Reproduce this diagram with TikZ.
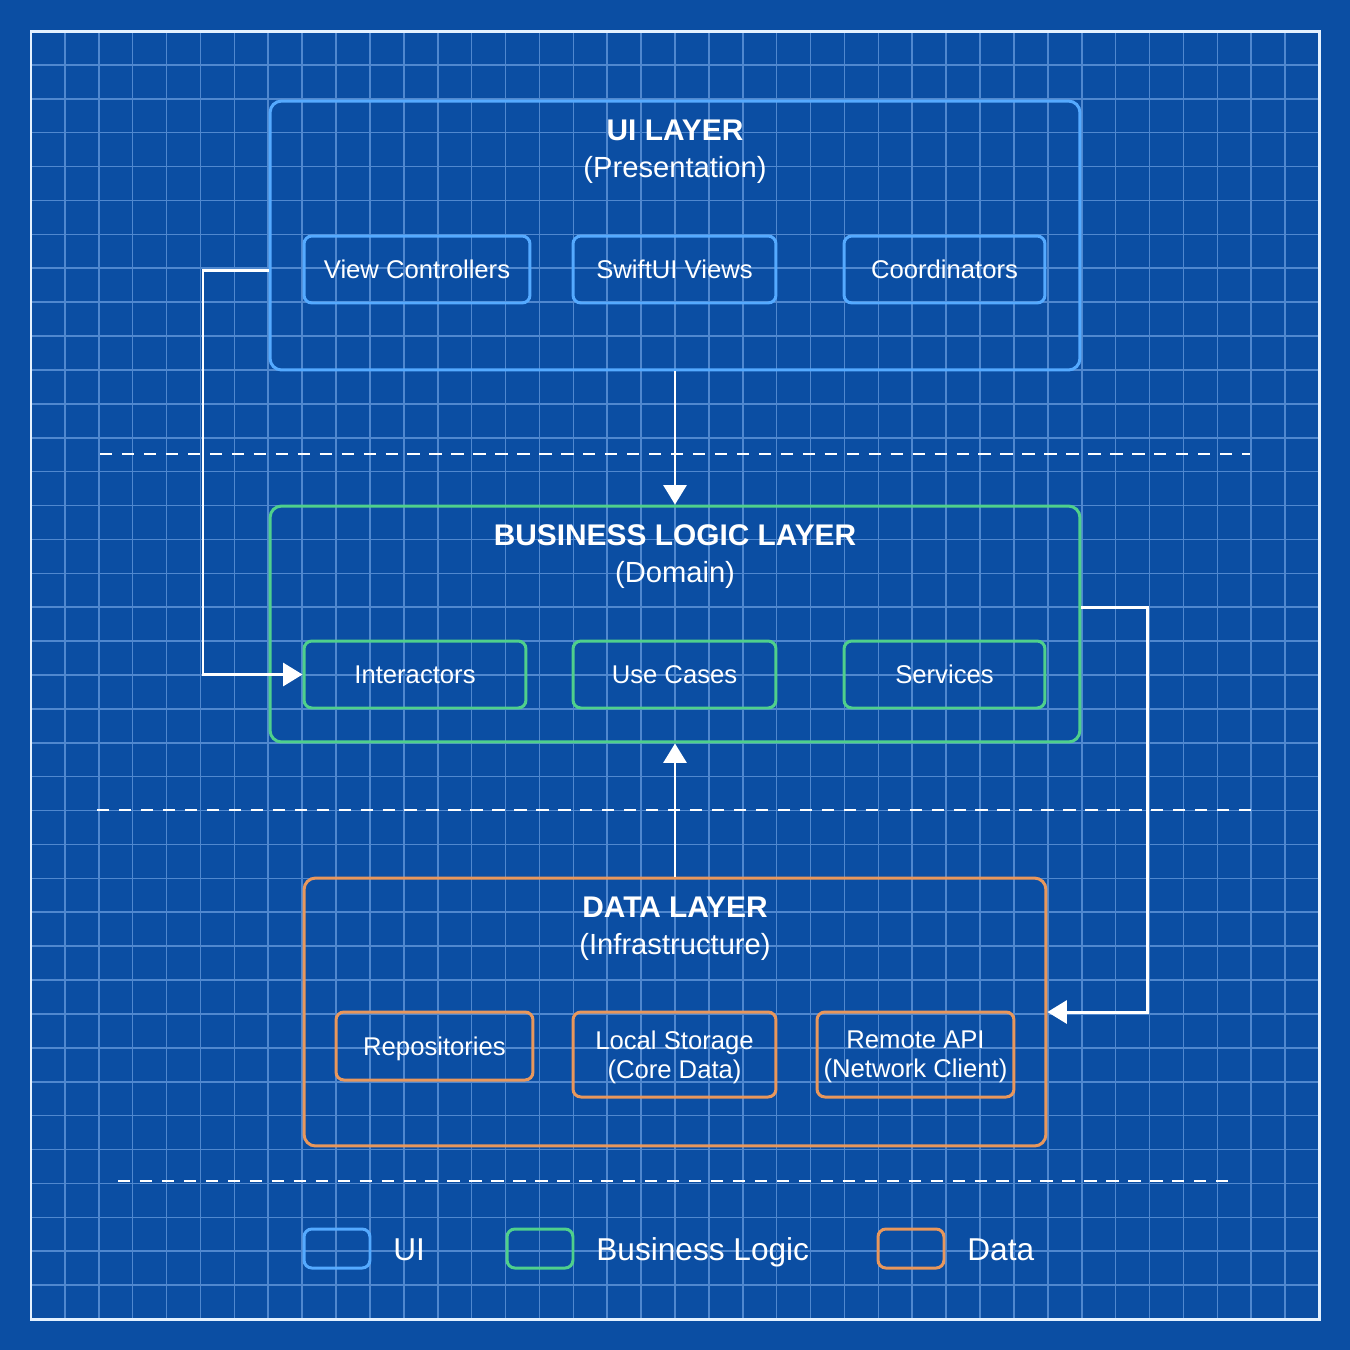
\documentclass[tikz,border=0pt]{standalone}
\usepackage{fontspec}
\setmainfont{Liberation Sans}
\usetikzlibrary{arrows.meta}
\definecolor{bgblue}{HTML}{0B4EA3}
\definecolor{gridc}{HTML}{5088CF}
\definecolor{framec}{HTML}{E4F1FF}
\definecolor{uic}{HTML}{55AAFF}
\definecolor{blc}{HTML}{4FD08C}
\definecolor{dac}{HTML}{E8975C}
\begin{document}
\begin{tikzpicture}[x=0.02cm,y=-0.02cm,
  layerbox/.style={draw, line width=1.7pt, rounded corners=6.5pt, inner sep=0pt, minimum width=16.2cm},
  subbox/.style={draw, line width=1.7pt, rounded corners=4.5pt, inner sep=0pt, text=white, align=center,
     font=\fontsize{14.6pt}{16.6pt}\selectfont, minimum height=1.34cm, text height=10.5pt, text depth=0pt},
  subbox2/.style={draw, line width=1.7pt, rounded corners=4.5pt, inner sep=0pt, text=white, align=center,
     font=\fontsize{14.6pt}{16.6pt}\selectfont, minimum height=1.7cm, text depth=0pt},
  legbox/.style={draw, line width=1.7pt, rounded corners=4.5pt, inner sep=0pt, minimum width=1.32cm, minimum height=0.78cm},
  title/.style={text=white, font=\bfseries\fontsize{17pt}{20pt}\selectfont, inner sep=0pt, text height=12.2pt, text depth=0pt},
  subtitle/.style={text=white, font=\fontsize{16.6pt}{20pt}\selectfont, inner sep=0pt, text height=11.9pt, text depth=0pt},
  legtext/.style={text=white, font=\fontsize{18pt}{21pt}\selectfont, inner sep=0pt, anchor=west, text height=12.9pt, text depth=0pt},
  sep/.style={draw=white, line width=1.6pt, dash pattern=on 7pt off 5.5pt},
  conn/.style={draw=white, line width=1.7pt, -{Triangle[length=11pt,width=13pt]}}]
% background and grid
\fill[bgblue] (0,0) rectangle (1350,1350);
\useasboundingbox (0,0) rectangle (1350,1350);
\foreach \i in {1,...,37}{
  \draw[gridc, line width=0.9pt] ({31+\i*33.8947},31) -- ({31+\i*33.8947},1319);
  \draw[gridc, line width=0.9pt] (31,{31+\i*33.8947}) -- (1319,{31+\i*33.8947});
}
\draw[framec, line width=1.7pt] (31,31) rectangle (1319,1319);
% separators
\draw[sep] (100,454) -- (1250,454);
\draw[sep] (97,810) -- (1255,810);
\draw[sep] (118,1181) -- (1232,1181);
% UI layer
\node[layerbox, draw=uic, minimum height=5.38cm] (ui) at (675,235.5) {};
\node[title] (uit) at (675,130) {UI LAYER};
\node[subtitle] (uis) at (675,167) {(Presentation)};
\node[subbox, draw=uic, minimum width=4.52cm] (vc) at (417,269.5) {View Controllers};
\node[subbox, draw=uic, minimum width=4.06cm] (sw) at (674.5,269.5) {SwiftUI Views};
\node[subbox, draw=uic, minimum width=4.02cm] (co) at (944.5,269.5) {Coordinators};
% Business logic layer
\node[layerbox, draw=blc, minimum height=4.72cm] (bl) at (675,624) {};
\node[title] (blt) at (675,535) {BUSINESS LOGIC LAYER};
\node[subtitle] (bls) at (675,572) {(Domain)};
\node[subbox, draw=blc, minimum width=4.44cm] (in) at (415,674.5) {Interactors};
\node[subbox, draw=blc, minimum width=4.06cm] (uc) at (674.5,674.5) {Use Cases};
\node[subbox, draw=blc, minimum width=4.02cm] (se) at (944.5,674.5) {Services};
% Data layer
\node[layerbox, draw=dac, minimum width=14.84cm, minimum height=5.36cm] (da) at (675,1012) {};
\node[title] (dat) at (675,907) {DATA LAYER};
\node[subtitle] (das) at (675,944) {(Infrastructure)};
\node[subbox, draw=dac, minimum width=3.94cm, minimum height=1.36cm] (re) at (434.5,1046) {Repositories};
\node[subbox2, draw=dac, minimum width=4.06cm] (ls) at (674.5,1054.5) {Local Storage\\(Core Data)};
\node[subbox2, draw=dac, minimum width=3.94cm] (ra) at (915.5,1054.5) {Remote API\\(Network Client)};
% connectors
\draw[conn] (ui.south) -- (bl.north);
\draw[conn] (da.north) -- (bl.south);
\coordinate (lc) at (203,270);
\draw[conn] (ui.west |- lc) -- (lc) |- (in.west);
\coordinate (rc) at (1147,607);
\draw[conn] (bl.east |- rc) -- (rc) |- (da.east);
% legend
\node[legbox, draw=uic] (lg1) at (337,1248.5) {};
\node[legtext] (lt1) at (393,1249) {UI};
\node[legbox, draw=blc] (lg2) at (540,1248.5) {};
\node[legtext] (lt2) at (596,1249) {Business Logic};
\node[legbox, draw=dac] (lg3) at (911,1248.5) {};
\node[legtext] (lt3) at (967,1249) {Data};
\end{tikzpicture}
\end{document}
